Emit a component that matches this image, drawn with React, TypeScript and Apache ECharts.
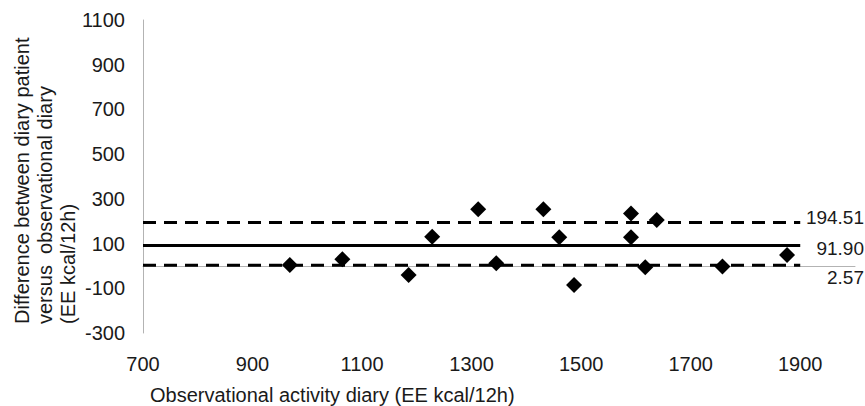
import React, { useEffect, useRef } from "react";
import * as echarts from "echarts";

// Observational activity diary (x) vs difference patient - observational (y)
const observed: number[] = [968, 1064, 1185, 1228, 1312, 1345, 1431, 1460, 1487, 1591, 1591, 1617, 1638, 1758, 1876];
const difference: number[] = [4, 30, -41, 131, 253, 12, 253, 128, -85, 235, 128, -6, 205, -3, 49];

const meanDiff = 91.9;
const upperLimit = 194.51;
const lowerLimit = 2.57;
const lineStart = 700;
const lineEnd = 1900;

const xTicks = { min: 700, max: 2000, interval: 200 };
const yTicks = { min: -300, max: 1100, interval: 200 };

const yTitleLines = ["Difference between diary patient", "versus  observational diary", "(EE kcal/12h)"];
const xTitle = "Observational activity diary (EE kcal/12h)";

const FONT = "'Liberation Sans', Arial, sans-serif";
const TEXT = "#1a1a1a";
const FS = 20;

export default function App() {
  const ref = useRef<HTMLDivElement>(null);
  useEffect(() => {
    if (!ref.current) return;
    const chart = echarts.init(ref.current, undefined, { renderer: "svg" });
    const points = observed.map((x, i) => [x, difference[i]]);
    const hline = (v: number) => [[lineStart, v], [lineEnd, v]];
    const plain = (v: number) => String(v);
    chart.setOption({
      animation: false,
      grid: { left: 143, top: 20, right: 10, bottom: 73 },
      xAxis: {
        type: "value",
        min: xTicks.min,
        max: xTicks.max,
        interval: xTicks.interval,
        axisLine: { show: true, lineStyle: { color: "#b3b3b3", width: 1 } },
        axisTick: { show: false },
        splitLine: { show: false },
        axisLabel: { showMaxLabel: false, margin: 21, fontSize: FS, color: TEXT, fontFamily: FONT, formatter: plain },
      },
      yAxis: {
        type: "value",
        min: yTicks.min,
        max: yTicks.max,
        interval: yTicks.interval,
        axisLine: { show: true, lineStyle: { color: "#b3b3b3", width: 1 } },
        axisTick: { show: false },
        splitLine: { show: false },
        axisLabel: { margin: 18, fontSize: FS, color: TEXT, fontFamily: FONT, formatter: plain },
      },
      series: [
        {
          type: "line",
          data: hline(upperLimit),
          showSymbol: false,
          lineStyle: { color: "#000", width: 3, type: [13, 8] },
          z: 1,
        },
        {
          type: "line",
          data: hline(meanDiff),
          showSymbol: false,
          lineStyle: { color: "#000", width: 3 },
          z: 1,
        },
        {
          type: "line",
          data: hline(lowerLimit),
          showSymbol: false,
          lineStyle: { color: "#000", width: 3, type: [13, 8] },
          z: 1,
        },
        {
          type: "scatter",
          data: points,
          symbol: "diamond",
          symbolSize: 16,
          itemStyle: { color: "#000", opacity: 1 },
          z: 3,
        },
      ],
    });

    const labelDefs: [number, string, number][] = [
      [upperLimit, upperLimit.toFixed(2), -5],
      [meanDiff, meanDiff.toFixed(2), 3],
      [lowerLimit, lowerLimit.toFixed(2), 12],
    ];
    const labelGraphics = labelDefs.map(([v, txt, dy]) => {
      const p = chart.convertToPixel({ gridIndex: 0 }, [lineEnd, v]) as number[];
      return {
        type: "text",
        x: 864,
        y: p[1] + dy,
        style: {
          text: txt,
          fill: TEXT,
          font: `19px ${FONT}`,
          textAlign: "right",
          textVerticalAlign: "middle",
        },
      };
    });

    chart.setOption({
      graphic: [
        ...labelGraphics,
        {
          type: "text",
          x: 10,
          y: 324,
          rotation: Math.PI / 2,
          style: {
            text: yTitleLines.join("\n"),
            fill: TEXT,
            font: `${FS}px ${FONT}`,
            lineHeight: 23,
            textAlign: "left",
            textVerticalAlign: "top",
          },
        },
        {
          type: "text",
          x: 150,
          y: 395,
          style: {
            text: xTitle,
            fill: TEXT,
            font: `${FS}px ${FONT}`,
            textAlign: "left",
            textVerticalAlign: "middle",
          },
        },
      ],
    });

    return () => chart.dispose();
  }, []);
  return (
    <div
      ref={ref}
      style={{ position: "absolute", left: 0, top: 0, width: 865, height: 406 }}
    />
  );
}
